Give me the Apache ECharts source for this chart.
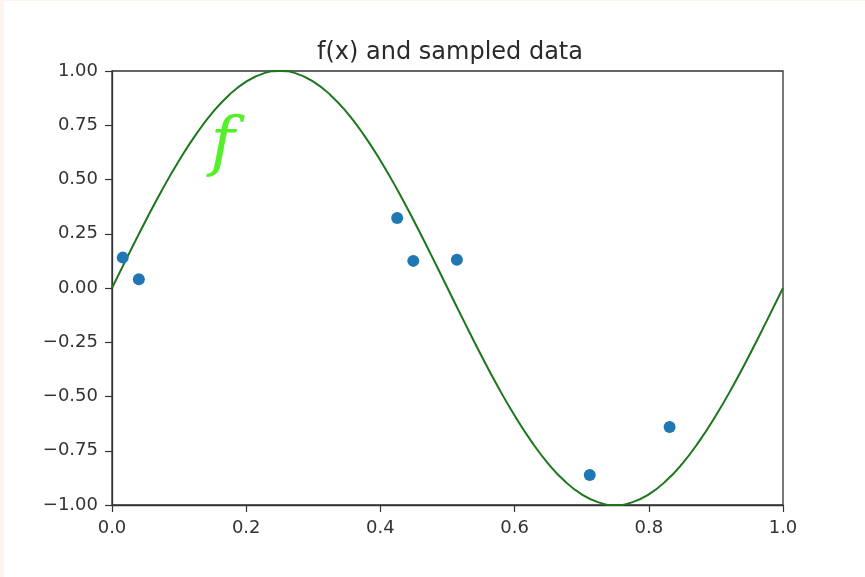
<!DOCTYPE html>
<html>
<head>
<meta charset="utf-8">
<script src="https://cdn.jsdelivr.net/npm/echarts@6/dist/echarts.min.js"></script>
<style>
  html, body { margin: 0; padding: 0; background: #fff3ee; }
  #wrap { position: absolute; left: 4px; top: 1px; width: 861px; height: 576px; background: #ffffff; }
  #chart { position: absolute; left: -4px; top: -1px; width: 865px; height: 577px; }
</style>
</head>
<body>
<div id="wrap"><div id="chart"></div></div>
<script>
// curve f(x)
const curveX = [0, 0.025, 0.05, 0.075, 0.1, 0.125, 0.15, 0.175, 0.2, 0.225, 0.25,
  0.275, 0.3, 0.325, 0.35, 0.375, 0.4, 0.425, 0.45, 0.475, 0.5,
  0.525, 0.55, 0.575, 0.6, 0.625, 0.65, 0.675, 0.7, 0.725, 0.75,
  0.775, 0.8, 0.825, 0.85, 0.875, 0.9, 0.925, 0.95, 0.975, 1.0];
const curveY = [0, 0.156, 0.309, 0.454, 0.588, 0.707, 0.809, 0.891, 0.951, 0.988, 1.0,
  0.988, 0.951, 0.891, 0.809, 0.707, 0.588, 0.454, 0.309, 0.156, 0,
  -0.156, -0.309, -0.454, -0.588, -0.707, -0.809, -0.891, -0.951, -0.988, -1.0,
  -0.988, -0.951, -0.891, -0.809, -0.707, -0.588, -0.454, -0.309, -0.156, 0];
// sampled data points
const sampleX = [0.016, 0.040, 0.425, 0.449, 0.514, 0.712, 0.831];
const sampleY = [0.140, 0.040, 0.323, 0.125, 0.130, -0.862, -0.641];
const xTicks = [0.0, 0.2, 0.4, 0.6, 0.8, 1.0];
const yTicks = [-1.0, -0.75, -0.5, -0.25, 0.0, 0.25, 0.5, 0.75, 1.0];
const titleText = 'f(x) and sampled data';
const curveLabel = 'f';

const chart = echarts.init(document.getElementById('chart'), null, { renderer: 'canvas' });
const fmt = (v, d) => (v < 0 ? '\u2212' : '') + Math.abs(v).toFixed(d);
const axisFont = { fontFamily: 'DejaVu Sans', fontSize: 18, color: '#333' };

chart.setOption({
  backgroundColor: 'transparent',
  animation: false,
  title: {
    text: titleText,
    left: 445, top: 36, textAlign: 'center',
    textStyle: { fontFamily: 'DejaVu Sans', fontSize: 24, fontWeight: 'normal', color: '#2a2a2a' }
  },
  grid: { left: 112, right: 82, top: 71, bottom: 72, show: true, borderColor: '#333', borderWidth: 1.3, backgroundColor: '#fff' },
  xAxis: {
    type: 'value', min: 0, max: 1, interval: 0.2,
    axisLine: { show: true, onZero: false, lineStyle: { color: '#333', width: 1.3 } },
    axisTick: { show: true, length: 7, lineStyle: { color: '#333', width: 1.2 } },
    splitLine: { show: false },
    axisLabel: Object.assign({ margin: 14, formatter: v => fmt(v, 1) }, axisFont)
  },
  yAxis: {
    type: 'value', min: -1, max: 1, interval: 0.25,
    axisLine: { show: true, onZero: false, lineStyle: { color: '#333', width: 1.3 } },
    axisTick: { show: true, length: 7, lineStyle: { color: '#333', width: 1.2 } },
    splitLine: { show: false },
    axisLabel: Object.assign({ margin: 14, formatter: v => fmt(v, 2) }, axisFont)
  },
  series: [
    {
      type: 'line',
      data: curveX.map((x, i) => [x, curveY[i]]),
      smooth: true,
      showSymbol: false,
      lineStyle: { color: '#1c761c', width: 2 },
      z: 2,
      markPoint: {
        symbol: 'circle', symbolSize: 0,
        data: [{ coord: [0.165, 0.655], value: curveLabel }],
        label: {
          show: true, formatter: curveLabel,
          fontFamily: 'DejaVu Serif', fontStyle: 'italic', fontSize: 66,
          color: '#55ee2a'
        }
      }
    },
    {
      type: 'scatter',
      data: sampleX.map((x, i) => [x, sampleY[i]]),
      symbolSize: 12,
      itemStyle: { color: '#1f77b4', opacity: 1 },
      z: 3
    }
  ]
});
</script>
</body>
</html>
